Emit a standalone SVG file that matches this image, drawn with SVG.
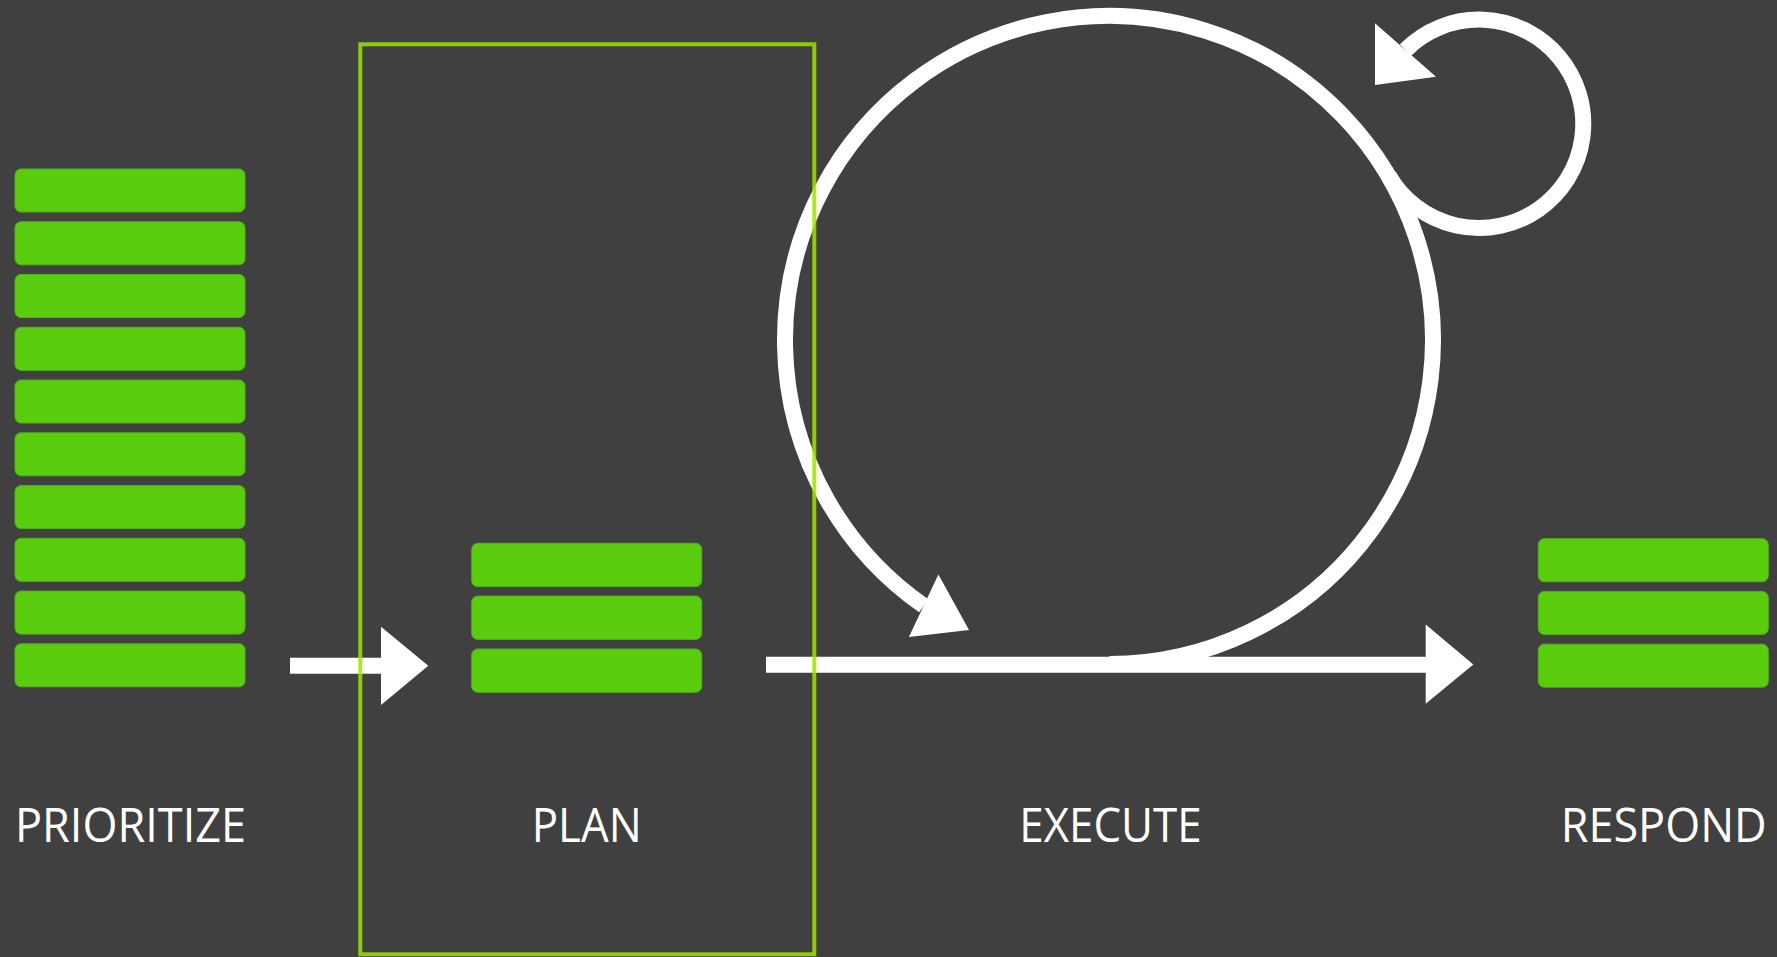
<svg xmlns="http://www.w3.org/2000/svg" width="1777" height="957" viewBox="0 0 1777 957">
<defs>
<style>
.bar{fill:#59cc0e;stroke:#4fb414;stroke-width:1}
.line{fill:none;stroke:#ffffff;stroke-width:16}
.head{fill:#ffffff}
.lbl{font-family:"Open Sans","Noto Sans","Liberation Sans",sans-serif;font-size:48px;fill:#ffffff;text-anchor:middle}
</style>
</defs>
<rect x="0" y="0" width="1777" height="957" fill="#404040"/>
<g id="prioritize">
<rect class="bar" x="15" y="169" width="230" height="43" rx="6"/>
<rect class="bar" x="15" y="221.8" width="230" height="43" rx="6"/>
<rect class="bar" x="15" y="274.5" width="230" height="43" rx="6"/>
<rect class="bar" x="15" y="327.3" width="230" height="43" rx="6"/>
<rect class="bar" x="15" y="380" width="230" height="43" rx="6"/>
<rect class="bar" x="15" y="432.8" width="230" height="43" rx="6"/>
<rect class="bar" x="15" y="485.6" width="230" height="43" rx="6"/>
<rect class="bar" x="15" y="538.3" width="230" height="43" rx="6"/>
<rect class="bar" x="15" y="591.1" width="230" height="43" rx="6"/>
<rect class="bar" x="15" y="643.8" width="230" height="43" rx="6"/>
<text class="lbl" x="130.5" y="841.7" textLength="231" lengthAdjust="spacingAndGlyphs">PRIORITIZE</text>
</g>
<g id="plan">
<rect class="bar" x="471.7" y="543.3" width="230" height="43.3" rx="6"/>
<rect class="bar" x="471.7" y="596.1" width="230" height="43.3" rx="6"/>
<rect class="bar" x="471.7" y="649" width="230" height="43.3" rx="6"/>
<text class="lbl" x="586.7" y="841.7" textLength="110" lengthAdjust="spacingAndGlyphs">PLAN</text>
</g>
<g id="execute">
<text class="lbl" x="1110.5" y="841.7" textLength="182.4" lengthAdjust="spacingAndGlyphs">EXECUTE</text>
</g>
<g id="respond">
<rect class="bar" x="1538.3" y="538.7" width="230" height="43" rx="6"/>
<rect class="bar" x="1538.3" y="591.4" width="230" height="43" rx="6"/>
<rect class="bar" x="1538.3" y="644.2" width="230" height="43" rx="6"/>
<text class="lbl" x="1663.7" y="841.7" textLength="206" lengthAdjust="spacingAndGlyphs">RESPOND</text>
</g>
<g id="connectors">
<line class="line" x1="290" y1="665.7" x2="383" y2="665.7"/>
<polygon class="head" points="381,626.7 428.3,665.7 381,705"/>
<line class="line" x1="766" y1="664.7" x2="1428" y2="664.7"/>
<polygon class="head" points="1425.7,624.5 1473.3,664.5 1425.7,703.8"/>
<path class="line" d="M1109.5,664 A324,324 0 1 0 923.7,605.8"/>
<polygon class="head" points="938.4,574.6 969,630.1 908.9,636.9"/>
<path class="line" d="M1388.6,175.5 A104.2,104.2 0 1 0 1405.5,50"/>
<polygon class="head" points="1375,23.3 1436,76.7 1375,85"/>
</g>
<g id="plan-frame">
<rect x="360.3" y="44.3" width="454" height="910" fill="none" stroke="#9fe400" stroke-opacity="0.85" stroke-width="4"/>
</g>
</svg>
